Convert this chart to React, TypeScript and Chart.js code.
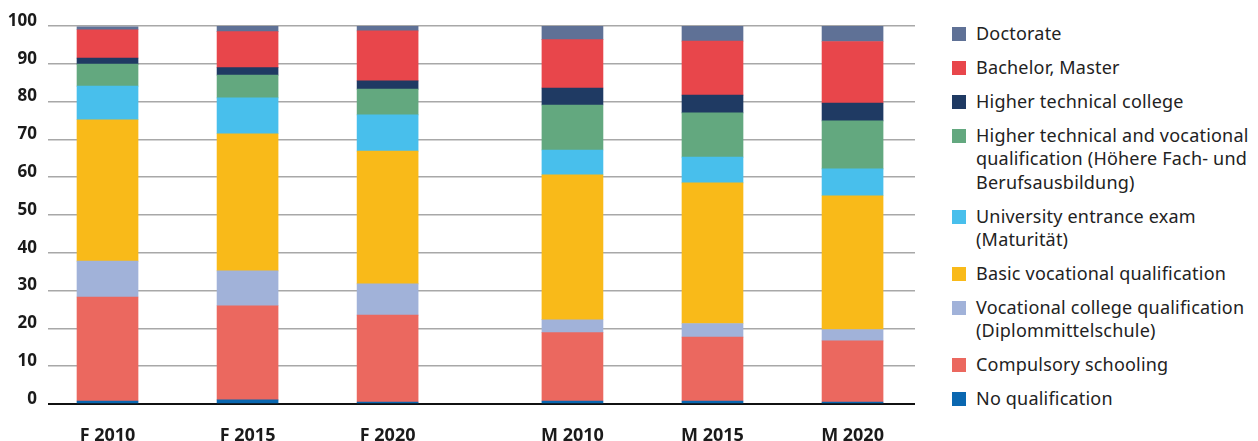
import { useEffect, useRef } from 'react'
import Chart from 'chart.js/auto'

const categories = ['F 2010', 'F 2015', 'F 2020', 'M 2010', 'M 2015', 'M 2020']
const yTicks = [0, 10, 20, 30, 40, 50, 60, 70, 80, 90, 100]

// bottom to top of the stack
const noQualification = [0.8, 1.1, 0.5, 0.8, 0.8, 0.5]
const compulsory = [27.5, 24.9, 23.0, 18.1, 16.9, 16.2]
const vocationalCollege = [9.5, 9.2, 8.3, 3.4, 3.6, 3.0]
const basicVocational = [37.4, 36.3, 35.1, 38.3, 37.2, 35.4]
const universityEntrance = [8.9, 9.5, 9.6, 6.6, 6.8, 7.1]
const higherTechVocational = [5.8, 6.0, 6.8, 11.9, 11.7, 12.7]
const higherTechCollege = [1.6, 2.0, 2.2, 4.5, 4.7, 4.7]
const bachelorMaster = [7.5, 9.5, 13.2, 12.8, 14.3, 16.3]
const doctorate = [0.8, 1.5, 1.3, 3.6, 4.0, 4.1]

const series = [
  { label: ['No qualification'], data: noQualification, color: '#0a67b0' },
  { label: ['Compulsory schooling'], data: compulsory, color: '#eb685f' },
  { label: ['Vocational college qualification', '(Diplommittelschule)'], data: vocationalCollege, color: '#a1b2d9' },
  { label: ['Basic vocational qualification'], data: basicVocational, color: '#f9ba19' },
  { label: ['University entrance exam', '(Maturität)'], data: universityEntrance, color: '#48bfec' },
  { label: ['Higher technical and vocational', 'qualification (Höhere Fach- und', 'Berufsausbildung)'], data: higherTechVocational, color: '#63a87f' },
  { label: ['Higher technical college'], data: higherTechCollege, color: '#1f3a63' },
  { label: ['Bachelor, Master'], data: bachelorMaster, color: '#e8464b' },
  { label: ['Doctorate'], data: doctorate, color: '#5f7196' },
]

// F and M groups are set a bit further apart
const GROUP_GAP = 0.32
const positions = categories.map((_, i) => i + (i >= 3 ? GROUP_GAP : 0))

const FONT = "'Open Sans', 'Noto Sans', sans-serif"

export default function App() {
  const canvasRef = useRef<HTMLCanvasElement>(null)
  const chartRef = useRef<Chart | null>(null)

  useEffect(() => {
    document.body.style.margin = '0'
    if (!canvasRef.current) return
    const ctx = canvasRef.current.getContext('2d')
    if (!ctx) return

    chartRef.current = new Chart(ctx, {
      type: 'bar',
      data: {
        datasets: series.map(s => ({
          label: s.label.join(' '),
          data: s.data.map((v, i) => ({ x: positions[i], y: v })),
          backgroundColor: s.color,
          borderWidth: 0,
          barThickness: 61,
        })),
      },
      options: {
        responsive: false,
        animation: false,
        layout: { padding: { top: 26, right: 25, left: 0, bottom: 0 } },
        plugins: { legend: { display: false }, tooltip: { enabled: false } },
        scales: {
          x: {
            type: 'linear',
            stacked: true,
            offset: false,
            min: -0.425,
            max: positions[positions.length - 1] + 0.446,
            afterBuildTicks: (axis: any) => {
              axis.ticks = positions.map(v => ({ value: v }))
            },
            afterFit: (axis: any) => { axis.height = 37 },
            grid: { display: false },
            border: { display: false },
            ticks: {
              autoSkip: false,
              maxRotation: 0,
              padding: 13,
              color: '#1a1a1a',
              font: { family: FONT, size: 18, weight: 'bold' },
              callback: (value: any) => categories[positions.indexOf(Number(value))] ?? '',
            },
          },
          y: {
            stacked: true,
            min: 0,
            max: 100,
            afterBuildTicks: (axis: any) => {
              axis.ticks = yTicks.map(v => ({ value: v }))
            },
            afterFit: (axis: any) => { axis.width = 48 },
            border: { display: false },
            grid: {
              drawTicks: false,
              color: (c: any) => (c.tick && c.tick.value === 0 ? '#111111' : '#a8a8a8'),
              lineWidth: (c: any) => (c.tick && c.tick.value === 0 ? 2 : 1.5),
            },
            ticks: {
              padding: 11,
              labelOffset: -5,
              color: '#1a1a1a',
              font: { family: FONT, size: 17, weight: 'bold' },
            },
          },
        },
      },
    })

    return () => {
      if (chartRef.current) chartRef.current.destroy()
    }
  }, [])

  const legendItems = [...series].reverse()

  return (
    <div style={{ position: 'relative', width: 1258, height: 441, background: '#fff' }}>
      <canvas ref={canvasRef} width={940} height={441} style={{ position: 'absolute', left: 0, top: 0 }}></canvas>
      <div style={{ position: 'absolute', left: 952, top: 22, fontFamily: "'Noto Sans', sans-serif", fontSize: 18, letterSpacing: 0.2, color: '#222', lineHeight: '23.5px' }}>
        {legendItems.map(s => (
          <div key={s.label[0]} style={{ display: 'flex', alignItems: 'flex-start', marginBottom: 10.4 }}>
            <span style={{ width: 14, height: 14, background: s.color, marginTop: 5, marginRight: 10, flex: 'none' }}></span>
            <span style={{ whiteSpace: 'nowrap' }}>
              {s.label.map(line => <div key={line}>{line}</div>)}
            </span>
          </div>
        ))}
      </div>
    </div>
  )
}
